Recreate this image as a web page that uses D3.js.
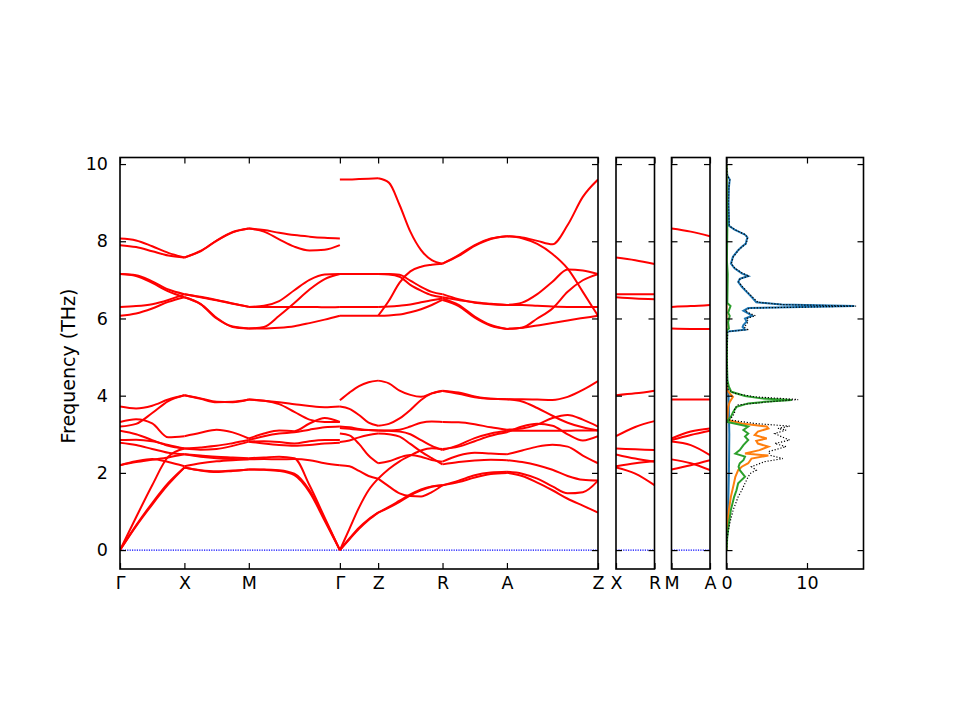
<!DOCTYPE html>
<html><head><meta charset="utf-8">
<script src="https://cdn.jsdelivr.net/npm/d3@7"></script>
<style>body{margin:0;background:#fff} svg{display:block} text{font-family:"DejaVu Sans",sans-serif}</style>
</head><body><svg id="c" width="960" height="720"></svg>
<script>
// ---------- data ----------
const kLabelsMain = ['Γ','X','M','Γ','Z','R','A','Z'];
const kDistMain = [0, 1, 2, 3.4142, 4.0082, 5.0082, 6.0082, 7.4224];
const kLabelsXR = ['X','R'];
const kDistXR = [0, 0.594];
const kLabelsMA = ['M','A'];
const kDistMA = [0, 0.594];
const yTicks = [0, 2, 4, 6, 8, 10];
const dosTicks = [0, 10];

const bandsGX = [
 [8.07,8.02,7.87,7.70,7.58],[7.90,7.85,7.74,7.63,7.58],
 [7.15,7.12,6.96,6.75,6.63],[7.15,7.10,6.92,6.70,6.55],
 [6.30,6.32,6.37,6.48,6.63],[6.07,6.13,6.26,6.43,6.55],
 [3.72,3.67,3.74,3.90,4.01],[3.20,3.27,3.55,3.86,4.01],
 [3.32,3.39,3.28,2.92,2.95],[3.09,3.00,2.85,2.70,2.63],
 [2.85,2.86,2.82,2.72,2.63],[2.78,2.72,2.62,2.52,2.48],
 [2.20,2.30,2.36,2.28,2.17],[2.20,2.28,2.34,2.40,2.48],
 [0,0.85,1.68,2.42,2.63],[0,0.62,1.18,1.70,2.14],[0,0.64,1.22,1.74,2.14]
];
const bandsXM = [
 [7.58,7.75,8.02,8.24,8.33],[7.58,7.74,8.01,8.23,8.33],
 [6.63,6.55,6.47,6.38,6.30],[6.63,6.56,6.48,6.39,6.30],
 [6.55,6.38,6.02,5.78,5.74],[6.55,6.37,6.00,5.79,5.74],
 [4.01,3.93,3.84,3.83,3.90],[4.01,3.92,3.83,3.84,3.90],
 [2.95,3.04,3.12,3.05,2.89],[2.63,2.66,2.70,2.77,2.85],
 [2.63,2.60,2.62,2.70,2.81],[2.48,2.42,2.38,2.36,2.35],
 [2.48,2.45,2.42,2.40,2.38],[2.17,2.25,2.30,2.33,2.35],
 [2.14,2.06,2.02,2.05,2.09],[2.14,2.07,2.04,2.06,2.09]
];
const bandsMG = [
 [8.33,8.29,8.22,8.16,8.12,8.09,8.07],[8.33,8.25,8.05,7.86,7.76,7.78,7.90],
 [6.30,6.33,6.45,6.73,7.00,7.14,7.15],[5.74,5.78,6.07,6.40,6.75,7.02,7.15],
 [6.30,6.30,6.30,6.30,6.30,6.29,6.30],[5.74,5.74,5.76,5.80,5.88,5.97,6.07],
 [3.90,3.87,3.83,3.78,3.73,3.70,3.72],[3.90,3.87,3.78,3.58,3.38,3.32,3.32],
 [2.89,3.02,3.10,3.08,3.28,3.42,3.32],[2.85,2.95,3.02,3.05,3.12,3.18,3.20],
 [2.81,2.82,2.80,2.76,2.82,2.85,2.85],[2.81,2.76,2.72,2.70,2.72,2.76,2.78],
 [2.35,2.36,2.35,2.36,2.33,2.25,2.20],[2.38,2.40,2.42,2.38,1.68,0.84,0],
 [2.09,2.09,2.07,1.98,1.55,0.80,0],[2.09,2.08,2.05,1.94,1.50,0.76,0]
];
const bandsGZ = [
 [9.60,9.60,9.61,9.62,9.63],[7.15,7.15,7.15,7.15,7.15],
 [6.30,6.30,6.30,6.30,6.30],[6.07,6.07,6.07,6.07,6.07],
 [3.88,4.08,4.25,4.35,4.39],[3.72,3.66,3.50,3.30,3.22],
 [3.20,3.18,3.14,3.11,3.10],[3.16,3.14,3.12,3.11,3.10],
 [3.02,2.97,2.75,2.45,2.25],[2.80,2.84,2.92,2.98,3.02],
 [2.20,2.17,2.05,1.92,1.85],[0,0.55,1.10,1.55,1.85],
 [0,0.28,0.55,0.78,0.97],[0,0.30,0.58,0.80,0.97]
];
const bandsZR = [
 [9.63,9.52,8.94,8.25,7.77,7.51,7.42],[6.07,6.46,6.93,7.22,7.34,7.39,7.42],
 [7.15,7.15,7.13,6.98,6.82,6.69,6.63],[7.15,7.14,7.08,6.87,6.72,6.60,6.55],
 [6.30,6.31,6.33,6.36,6.42,6.47,6.52],[6.07,6.08,6.10,6.16,6.24,6.35,6.48],
 [4.39,4.32,4.13,4.02,3.97,4.06,4.13],[3.22,3.27,3.41,3.63,3.89,4.06,4.12],
 [3.10,3.10,3.12,3.20,3.30,3.33,3.32],[3.10,3.09,3.07,3.00,2.85,2.70,2.59],
 [3.02,3.00,2.94,2.75,2.55,2.38,2.22],[2.25,2.30,2.40,2.46,2.42,2.33,2.29],
 [1.85,2.10,2.30,2.45,2.58,2.64,2.62],[1.85,1.65,1.47,1.40,1.39,1.50,1.68],
 [0.97,1.10,1.25,1.42,1.55,1.64,1.68],[0.97,1.12,1.28,1.44,1.57,1.65,1.68]
];
const bandsRA = [
 [7.42,7.64,7.90,8.07,8.13],[7.42,7.62,7.88,8.06,8.13],
 [6.63,6.50,6.42,6.38,6.35],[6.55,6.48,6.41,6.37,6.35],
 [6.52,6.35,6.05,5.83,5.73],[6.48,6.32,6.02,5.81,5.73],
 [4.13,4.08,3.98,3.92,3.91],[4.12,4.05,3.96,3.92,3.91],
 [3.32,3.31,3.26,3.18,3.12],[2.59,2.72,2.90,3.02,3.09],
 [2.62,2.68,2.82,2.96,3.05],[2.29,2.45,2.52,2.50,2.48],
 [2.22,2.28,2.32,2.34,2.33],[1.68,1.80,1.94,2.01,2.03],
 [1.68,1.76,1.88,1.97,2.00]
];
const bandsAZ = [
 [8.13,8.10,8.01,7.92,8.42,9.15,9.60],[8.13,8.08,7.93,7.67,7.29,6.69,6.07],
 [6.35,6.41,6.63,6.95,7.27,7.24,7.15],[6.35,6.35,6.33,6.31,6.30,6.30,6.30],
 [5.73,5.76,6.00,6.26,6.69,6.99,7.15],[5.73,5.76,5.82,5.88,5.95,6.01,6.07],
 [3.91,3.91,3.90,3.89,3.97,4.15,4.38],[3.91,3.85,3.68,3.48,3.30,3.18,3.10],
 [3.12,3.15,3.25,3.42,3.50,3.38,3.20],[3.09,3.09,3.09,3.09,3.09,3.10,3.10],
 [3.05,3.20,3.27,3.22,3.00,2.84,2.95],[2.48,2.58,2.68,2.73,2.68,2.45,2.25],
 [2.33,2.28,2.20,2.08,1.92,1.82,1.80],[2.03,1.98,1.85,1.65,1.47,1.50,1.80],
 [2.00,1.92,1.75,1.55,1.33,1.15,0.97]
];
const bandsXR = [
 [7.58,7.51,7.41],[6.63,6.63,6.63],[6.55,6.52,6.50],
 [4.01,4.06,4.13],[2.95,3.19,3.34],[2.63,2.61,2.59],
 [2.48,2.37,2.29],[2.17,2.25,2.31],[2.14,1.98,1.68]
];
const bandsMA = [
 [8.33,8.25,8.13],[6.30,6.32,6.35],[5.74,5.73,5.73],
 [3.90,3.90,3.90],[2.89,3.07,3.15],[2.85,2.98,3.09],
 [2.81,2.72,2.46],[2.35,2.25,2.07],[2.09,2.20,2.33]
];

// DOS: [frequency, density]
const dosBlue = [[0,0],[1.0,0.2],[2.0,0.3],[3.0,0.35],[3.5,0.3],[4.0,0.25],[4.3,0.1],[5.0,0.03],[5.66,0.1],[5.71,2.3],[5.78,2.0],[5.83,2.1],[5.92,2.5],[6.00,2.3],[6.07,3.2],[6.13,2.7],[6.20,2.1],[6.27,2.7],[6.32,15.9],[6.36,6.8],[6.42,3.7],[6.56,3.1],[6.69,2.5],[6.82,1.9],[6.95,1.45],[7.03,1.65],[7.10,2.7],[7.17,1.9],[7.30,1.0],[7.42,0.55],[7.60,0.8],[7.77,1.45],[7.86,1.9],[7.94,2.4],[8.03,2.5],[8.10,2.6],[8.17,2.3],[8.30,1.0],[8.40,0.3],[8.6,0.3],[9.0,0.25],[9.4,0.3],[9.6,0.4],[9.7,0.1],[10.0,0]];
const dosOrange = [[0,0],[0.69,0.1],[1.04,0.3],[1.38,0.54],[1.64,0.83],[1.90,1.1],[2.07,1.45],[2.16,1.9],[2.25,2.7],[2.37,3.1],[2.45,5.2],[2.50,2.3],[2.59,4.1],[2.68,5.2],[2.76,3.9],[2.83,3.7],[2.89,5.0],[2.98,3.5],[3.07,3.9],[3.15,5.2],[3.20,5.0],[3.28,1.9],[3.37,0.1],[3.71,0.2],[3.84,0.4],[3.97,0.8],[4.06,0.4],[4.15,0.05],[4.5,0],[10,0]];
const dosGreen = [[0,0],[0.35,0.1],[0.69,0.3],[1.04,0.54],[1.38,0.95],[1.55,1.24],[1.73,1.45],[1.90,2.3],[2.07,1.65],[2.16,1.5],[2.25,1.65],[2.33,2.1],[2.42,2.3],[2.50,1.1],[2.59,1.65],[2.72,2.1],[2.85,2.7],[2.94,2.3],[3.02,2.7],[3.11,2.1],[3.20,2.7],[3.28,1.0],[3.32,0.1],[3.37,0.2],[3.45,0.54],[3.58,0.83],[3.71,1.24],[3.80,2.7],[3.84,4.75],[3.89,8.1],[3.93,4.3],[3.99,2.3],[4.10,0.6],[4.23,0.3],[4.40,0.1],[5.0,0.05],[5.70,0.05],[5.74,0.3],[5.90,0.2],[6.07,0.4],[6.15,0.2],[6.32,0.5],[6.40,0.1],[7.15,0.15],[7.5,0.05],[8.3,0.1],[10,0]];
const dosTotal = [[0,0],[0.35,0.1],[0.69,0.4],[1.04,0.83],[1.38,1.45],[1.55,1.9],[1.73,2.3],[1.90,2.7],[1.99,3.0],[2.07,3.7],[2.16,3.1],[2.29,4.75],[2.37,7.0],[2.45,5.5],[2.55,5.2],[2.68,7.4],[2.76,6.0],[2.85,7.85],[2.94,6.8],[3.02,6.0],[3.11,7.4],[3.15,6.4],[3.21,7.85],[3.28,3.5],[3.37,0.4],[3.54,1.0],[3.67,1.0],[3.76,1.45],[3.84,5.2],[3.90,8.9],[3.97,3.5],[4.06,1.0],[4.15,0.2],[4.4,0.1],[5.0,0.05],[5.66,0.15],[5.71,2.6],[5.78,2.2],[5.83,2.4],[5.92,2.7],[6.00,2.5],[6.07,3.6],[6.13,2.9],[6.20,2.3],[6.27,2.9],[6.32,16.1],[6.36,7.0],[6.42,3.9],[6.56,3.2],[6.69,2.6],[6.82,2.0],[6.95,1.5],[7.03,1.7],[7.10,2.8],[7.17,2.0],[7.30,1.05],[7.42,0.6],[7.60,0.85],[7.77,1.5],[7.86,1.95],[7.94,2.45],[8.03,2.55],[8.10,2.65],[8.17,2.35],[8.30,1.05],[8.40,0.35],[8.6,0.3],[9.0,0.25],[9.4,0.3],[9.6,0.4],[9.7,0.1],[10.0,0]];

// ---------- layout ----------
const svg = d3.select('#c');
const TOP = 157.5, BOT = 569;
const y = d3.scaleLinear().domain([-0.49, 10.17]).range([BOT, TOP]);
const FS = '17.5px';

function styleAxis(g){
  g.select('.domain').remove();
  g.selectAll('.tick line').attr('stroke','#000').attr('stroke-width',1.2);
  g.selectAll('.tick text').attr('font-family','DejaVu Sans, sans-serif').attr('font-size',FS).attr('fill','#000');
  g.attr('font-family',null).attr('font-size',null);
}

function frameAxes(x0, x1, x, xTicks, xLabels, yLabels){
  const ax = svg.append('g');
  const yl = d3.axisLeft(y).tickValues(yTicks).tickSize(-6).tickPadding(12);
  if(!yLabels) yl.tickFormat('');
  ax.append('g').attr('transform',`translate(${x0},0)`).call(yl).call(styleAxis);
  ax.append('g').attr('transform',`translate(${x1},0)`).call(d3.axisRight(y).tickValues(yTicks).tickSize(-6).tickFormat('')).call(styleAxis);
  ax.append('g').attr('transform',`translate(0,${TOP})`).call(d3.axisTop(x).tickValues(xTicks).tickSize(-6).tickFormat('')).call(styleAxis);
  ax.append('g').attr('transform',`translate(0,${BOT})`).call(d3.axisBottom(x).tickValues(xTicks).tickSize(-6).tickPadding(8).tickFormat((d,i)=>xLabels[i])).call(styleAxis);
  ax.append('rect').attr('x',x0).attr('y',TOP).attr('width',x1-x0).attr('height',BOT-TOP)
    .attr('fill','none').attr('stroke','#000').attr('stroke-width',1.6);
}

function bandPanel(id, x0, x1, kDist, kLabels, segs, yLabels){
  const x = d3.scaleLinear().domain([kDist[0], kDist[kDist.length-1]]).range([x0, x1]);
  svg.append('clipPath').attr('id','clip'+id).append('rect')
     .attr('x',x0).attr('y',TOP).attr('width',x1-x0).attr('height',BOT-TOP);
  const plot = svg.append('g').attr('clip-path',`url(#clip${id})`);
  plot.append('line').attr('x1',x0).attr('x2',x1).attr('y1',y(0)).attr('y2',y(0))
      .attr('stroke','#0000ff').attr('stroke-width',1.2).attr('stroke-dasharray','1.2,1.2');
  const line = d3.line().x(d=>x(d[0])).y(d=>y(d[1])).curve(d3.curveMonotoneX);
  segs.forEach(([i0,i1,bands])=>{
    const k0 = kDist[i0], k1 = kDist[i1];
    bands.forEach(b=>{
      const pts = b.map((v,i)=>[k0+(k1-k0)*i/(b.length-1), v]);
      plot.append('path').attr('d',line(pts)).attr('fill','none')
          .attr('stroke','#ff0000').attr('stroke-width',2);
    });
  });
  frameAxes(x0, x1, x, kDist, kLabels, yLabels);
}

bandPanel('m', 120, 598, kDistMain, kLabelsMain,
  [[0,1,bandsGX],[1,2,bandsXM],[2,3,bandsMG],[3,4,bandsGZ],[4,5,bandsZR],[5,6,bandsRA],[6,7,bandsAZ]], true);
bandPanel('xr', 616, 654.5, kDistXR, kLabelsXR, [[0,1,bandsXR]], false);
bandPanel('ma', 671.5, 710, kDistMA, kLabelsMA, [[0,1,bandsMA]], false);

// DOS panel
const dx0 = 726.5, dx1 = 863.5;
const xd = d3.scaleLinear().domain([0, 17.02]).range([dx0, dx1]);
svg.append('clipPath').attr('id','clipd').append('rect').attr('x',dx0).attr('y',TOP).attr('width',dx1-dx0).attr('height',BOT-TOP);
const dplot = svg.append('g').attr('clip-path','url(#clipd)');
const dline = d3.line().x(d=>xd(d[1])).y(d=>y(d[0]));
[[dosBlue,'#1f77b4'],[dosOrange,'#ff7f0e'],[dosGreen,'#2ca02c']].forEach(([data,col])=>{
  dplot.append('path').attr('d',dline(data)).attr('fill','none').attr('stroke',col).attr('stroke-width',2);
});
dplot.append('path').attr('d',dline(dosTotal)).attr('fill','none').attr('stroke','#000')
  .attr('stroke-width',1.2).attr('stroke-dasharray','1.2,1.8');
frameAxes(dx0, dx1, xd, dosTicks, dosTicks.map(String), false);

// y label
svg.append('text').attr('transform','translate(68,366) rotate(-90)')
  .attr('text-anchor','middle').attr('dominant-baseline','central')
  .attr('font-size','19px').attr('fill','#000').text('Frequency (THz)');
</script></body></html>
